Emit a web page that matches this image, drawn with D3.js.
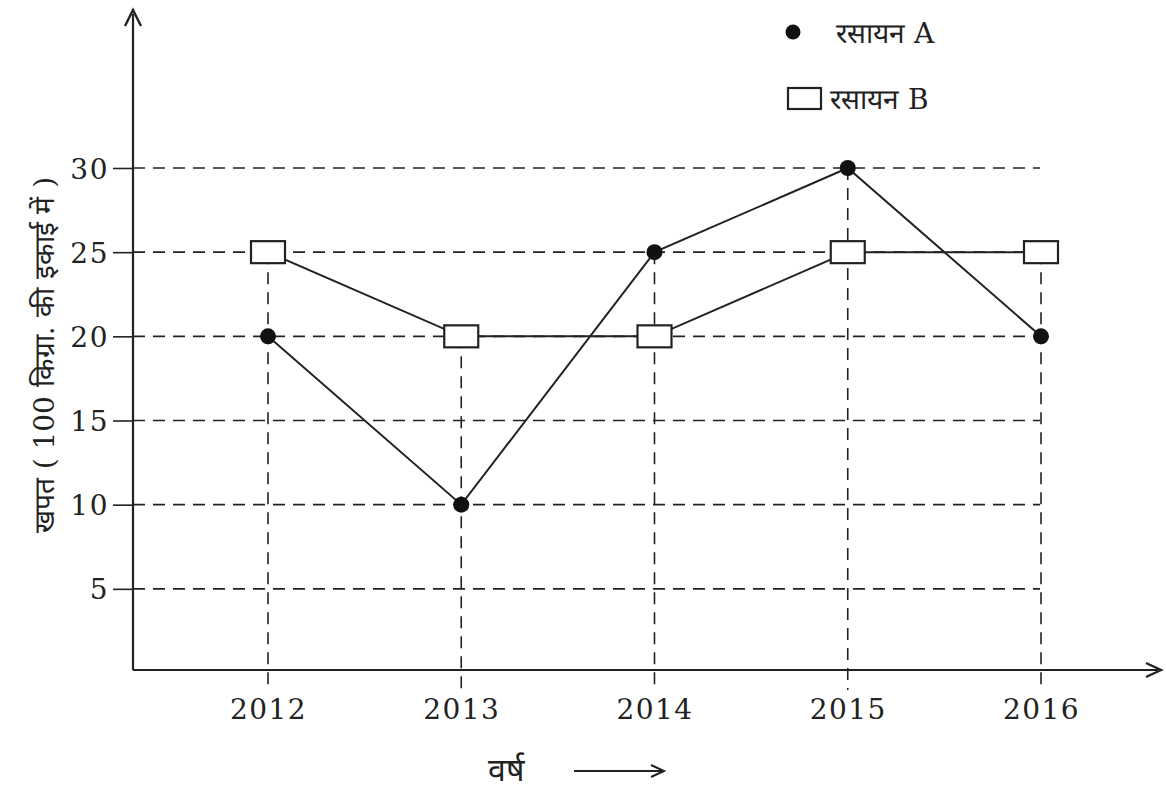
<!DOCTYPE html>
<html><head><meta charset="utf-8">
<script src="https://cdn.jsdelivr.net/npm/d3@7"></script>
<style>body{margin:0;background:#fff}svg{display:block}</style>
</head><body>
<svg id="c" width="1166" height="788"></svg>
<script>
const years = ["2012","2013","2014","2015","2016"];
const chemA = [20,10,25,30,20];
const chemB = [25,20,20,25,25];
const yTicks = [5,10,15,20,25,30];
const legendA = "रसायन A";
const legendB = "रसायन B";
const yLabel = "खपत ( 100 किग्रा. की इकाई में )";
const xLabel = "वर्ष";

const svg = d3.select("#c");
const ink = "#222";
const serif = "'DejaVu Serif','Liberation Serif',serif";
const x = d3.scalePoint().domain(years).range([268,1041]);
const y = d3.scaleLinear().domain([0,30]).range([673,168]);
const x0 = 133, yAxisY = 670;

// horizontal grid
svg.append("g").selectAll("line").data(yTicks).join("line")
  .attr("x1",x0).attr("x2",1040).attr("y1",d=>y(d)).attr("y2",d=>y(d))
  .attr("stroke",ink).attr("stroke-width",1.6).attr("stroke-dasharray","12,8");
// vertical grid
svg.append("g").selectAll("line").data(years).join("line")
  .attr("x1",d=>x(d)).attr("x2",d=>x(d))
  .attr("y1",(d,i)=>y(Math.max(chemA[i],chemB[i]))).attr("y2",690)
  .attr("stroke",ink).attr("stroke-width",1.6).attr("stroke-dasharray","12,8");

// axes
svg.append("line").attr("x1",x0).attr("x2",x0).attr("y1",yAxisY).attr("y2",14).attr("stroke",ink).attr("stroke-width",2.2);
svg.append("path").attr("d",`M${x0-8},26 L${x0},10 L${x0+8},26`).attr("fill","none").attr("stroke",ink).attr("stroke-width",2.4);
svg.append("line").attr("x1",x0).attr("x2",1158).attr("y1",yAxisY).attr("y2",yAxisY).attr("stroke",ink).attr("stroke-width",2.2);
svg.append("path").attr("d",`M1146,${yAxisY-7} L1161,${yAxisY} L1146,${yAxisY+7}`).attr("fill","none").attr("stroke",ink).attr("stroke-width",2.4);

// y ticks
const yg = svg.append("g").attr("transform",`translate(${x0},0)`)
  .call(d3.axisLeft(y).tickValues(yTicks).tickSize(20).tickSizeOuter(0));
yg.select(".domain").remove();
yg.selectAll(".tick line").attr("stroke",ink).attr("stroke-width",1.6);
yg.selectAll(".tick text").attr("font-family",serif).attr("font-size",28).attr("letter-spacing",1.5)
  .attr("fill",ink).attr("x",-24).attr("dy","0.36em");

// x tick labels
const xg = svg.append("g").attr("transform",`translate(0,${yAxisY})`)
  .call(d3.axisBottom(x).tickSize(0));
xg.select(".domain").remove();
xg.selectAll(".tick text").attr("font-family",serif).attr("font-size",28).attr("letter-spacing",1.5)
  .attr("fill",ink).attr("dy","1.65em");

// lines
const line = d3.line().x((d,i)=>x(years[i])).y(d=>y(d));
svg.append("path").attr("d",line(chemB)).attr("fill","none").attr("stroke",ink).attr("stroke-width",2);
svg.append("path").attr("d",line(chemA)).attr("fill","none").attr("stroke",ink).attr("stroke-width",2);

// markers
svg.append("g").selectAll("rect").data(chemB).join("rect")
  .attr("x",(d,i)=>x(years[i])-17).attr("y",d=>y(d)-11).attr("width",34).attr("height",22)
  .attr("fill","#fff").attr("stroke",ink).attr("stroke-width",2.2);
svg.append("g").selectAll("circle").data(chemA).join("circle")
  .attr("cx",(d,i)=>x(years[i])).attr("cy",d=>y(d)).attr("r",8).attr("fill","#111");

// legend
svg.append("circle").attr("cx",793).attr("cy",32).attr("r",7.5).attr("fill","#111");
svg.append("text").attr("x",836).attr("y",43).attr("font-family",serif).attr("font-size",28).attr("fill",ink).text(legendA);
svg.append("rect").attr("x",788).attr("y",88).attr("width",33).attr("height",21).attr("fill","#fff").attr("stroke",ink).attr("stroke-width",2.2);
svg.append("text").attr("x",830).attr("y",109).attr("font-family",serif).attr("font-size",28).attr("fill",ink).text(legendB);

// axis labels
svg.append("text").attr("transform","translate(44,355) rotate(-90)").attr("text-anchor","middle")
  .attr("dy","0.35em").attr("font-family",serif).attr("font-size",28).attr("fill",ink).text(yLabel);
svg.append("text").attr("x",488).attr("y",781).attr("font-family",serif).attr("font-size",32).attr("fill",ink).text(xLabel);
svg.append("line").attr("x1",574).attr("x2",662).attr("y1",771).attr("y2",771).attr("stroke",ink).attr("stroke-width",2);
svg.append("path").attr("d","M651,765 L664,771 L651,777").attr("fill","none").attr("stroke",ink).attr("stroke-width",2);
</script>
</body></html>
